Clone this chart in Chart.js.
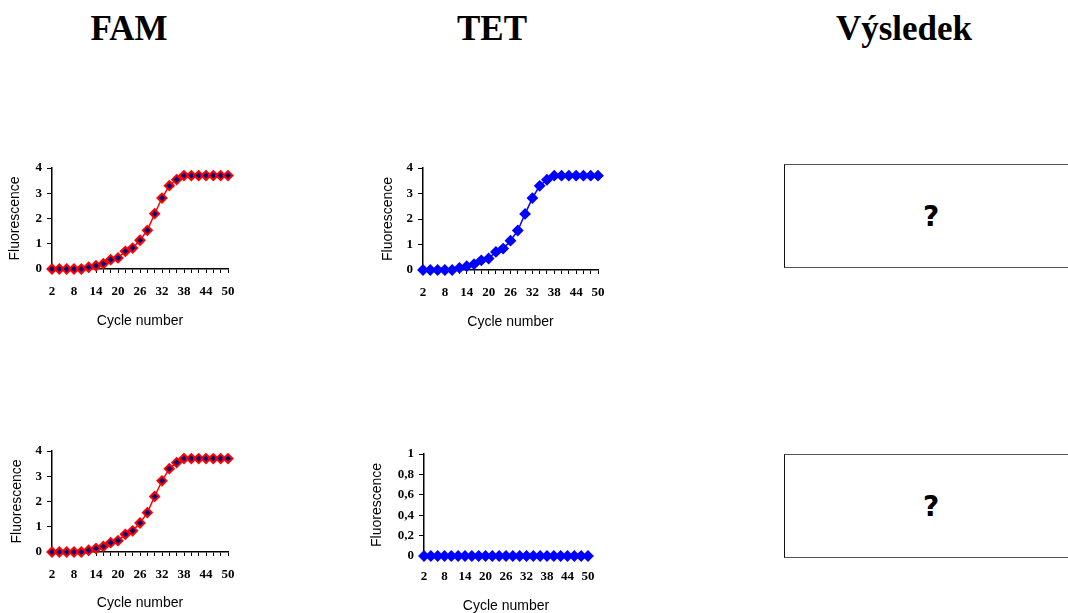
<!DOCTYPE html>
<html>
<head>
<meta charset="utf-8">
<script src="https://cdn.jsdelivr.net/npm/chart.js@4"></script>
<style>
  body { margin: 0; background: #fff; width: 1068px; height: 613px; overflow: hidden; position: relative; }
  .head { position: absolute; top: 9px; font: bold 35px "Liberation Serif", "DejaVu Serif", serif; color: #000; transform: translateX(-50%); white-space: nowrap; }
  .box { position: absolute; left: 784px; width: 300px; height: 104px; border: 1px solid #555; border-left-color: #111; box-sizing: border-box; }
  .box span { position: absolute; left: 146px; top: 50%; transform: translate(-50%, -50%); font: bold 28px "DejaVu Sans", sans-serif; }
  .wrap { position: absolute; width: 250px; height: 190px; }
</style>
</head>
<body>
<div class="head" style="left:129px">FAM</div>
<div class="head" style="left:492px">TET</div>
<div class="head" style="left:904px">Výsledek</div>

<div class="box" style="top:164px"><span>?</span></div>
<div class="box" style="top:454px"><span>?</span></div>

<div class="wrap" style="left:0;top:150px"><canvas id="c1"></canvas></div>
<div class="wrap" style="left:371px;top:150px"><canvas id="c2"></canvas></div>
<div class="wrap" style="left:0;top:433px"><canvas id="c3"></canvas></div>
<div class="wrap" style="left:365px;top:436px"><canvas id="c4"></canvas></div>

<script>
const cycles = [2, 4, 6, 8, 10, 12, 14, 16, 18, 20, 22, 24, 26, 28, 30, 32, 34, 36, 38, 40, 42, 44, 46, 48, 50];
const xTickLabels = ['2', '8', '14', '20', '26', '32', '38', '44', '50'];

const famTop = [0, 0, 0, 0, 0, 0.07, 0.13, 0.21, 0.37, 0.44, 0.7, 0.83, 1.14, 1.53, 2.19, 2.81, 3.3, 3.54, 3.7, 3.7, 3.7, 3.7, 3.7, 3.7, 3.7];
const tetTop = [0, 0, 0, 0, 0, 0.08, 0.15, 0.23, 0.38, 0.45, 0.71, 0.84, 1.15, 1.55, 2.2, 2.82, 3.3, 3.54, 3.7, 3.7, 3.7, 3.7, 3.7, 3.7, 3.7];
const famBottom = [0, 0, 0, 0, 0, 0.07, 0.14, 0.22, 0.37, 0.45, 0.7, 0.84, 1.15, 1.56, 2.2, 2.82, 3.3, 3.54, 3.7, 3.7, 3.7, 3.7, 3.7, 3.7, 3.7];
const tetBottom = [0, 0, 0, 0, 0, 0, 0, 0, 0, 0, 0, 0, 0, 0, 0, 0, 0, 0, 0, 0, 0, 0, 0, 0, 0];

const yTicks4 = [0, 1, 2, 3, 4];
const yLabels4 = ['0', '1', '2', '3', '4'];
const yTicks1 = [0, 0.2, 0.4, 0.6, 0.8, 1];
const yLabels1 = ['0', '0,2', '0,4', '0,6', '0,8', '1'];

const tickFont = { family: 'Liberation Serif', weight: 'bold', size: 13 };
const titleFont = { family: 'Liberation Sans', size: 14 };

function makeChart(id, values, lineColor, fillColor, yTicks, yLabels, cfg) {
  new Chart(document.getElementById(id), {
    type: 'line',
    data: {
      labels: cycles,
      datasets: [{
        data: values,
        borderColor: lineColor,
        borderWidth: 1.5,
        pointStyle: 'rectRot',
        pointRadius: 4.5,
        pointBorderWidth: 2,
        pointBorderColor: lineColor,
        pointBackgroundColor: fillColor,
        tension: 0,
        clip: false
      }]
    },
    options: {
      responsive: true,
      maintainAspectRatio: false,
      animation: false,
      layout: { padding: cfg.pad },
      plugins: { legend: { display: false }, tooltip: { enabled: false } },
      scales: {
        x: {
          type: 'category',
          offset: false,
          afterFit: s => { s.height = cfg.xH; },
          grid: { drawOnChartArea: false, drawTicks: true, tickLength: 4, color: '#000' },
          border: { color: '#000', width: 1.5 },
          ticks: {
            autoSkip: false, maxRotation: 0, color: '#000', font: tickFont, padding: cfg.xPad,
            callback: (v, i) => xTickLabels.includes(String(cycles[i])) ? String(cycles[i]) : ''
          },
          title: { display: true, text: 'Cycle number', color: '#000', font: titleFont, padding: { top: 0, bottom: 0 } }
        },
        y: {
          min: yTicks[0],
          max: yTicks[yTicks.length - 1],
          afterFit: s => { s.width = cfg.yW; },
          afterBuildTicks: s => { s.ticks = yTicks.map(v => ({ value: v })); },
          grid: { drawOnChartArea: false, drawTicks: true, tickLength: 5, color: '#000' },
          border: { color: '#000', width: 1.5 },
          ticks: {
            color: '#000', font: tickFont, padding: 5,
            callback: (v, i) => yLabels[i]
          },
          title: { display: true, text: 'Fluorescence', color: '#000', font: titleFont, padding: { top: cfg.yTitlePad, bottom: 0 } }
        }
      }
    }
  });
}

makeChart('c1', famTop, '#ff0000', '#000080', yTicks4, yLabels4,
  { yW: 52, xH: 60.4, xPad: 11, yTitlePad: 6.6, pad: { left: 0, right: 22, top: 18, bottom: 10.6 } });
makeChart('c2', tetTop, '#0000ff', '#0000ff', yTicks4, yLabels4,
  { yW: 52, xH: 60.4, xPad: 11, yTitlePad: 8.6, pad: { left: 0, right: 23, top: 18, bottom: 9.6 } });
makeChart('c3', famBottom, '#ff0000', '#000080', yTicks4, yLabels4,
  { yW: 52, xH: 59.4, xPad: 11, yTitlePad: 8.6, pad: { left: 0, right: 22, top: 18, bottom: 11.6 } });
makeChart('c4', tetBottom, '#0000ff', '#0000ff', yTicks1, yLabels1,
  { yW: 59, xH: 58.4, xPad: 9, yTitlePad: 3.6, pad: { left: 0, right: 27, top: 18, bottom: 11.6 } });
</script>
</body>
</html>
